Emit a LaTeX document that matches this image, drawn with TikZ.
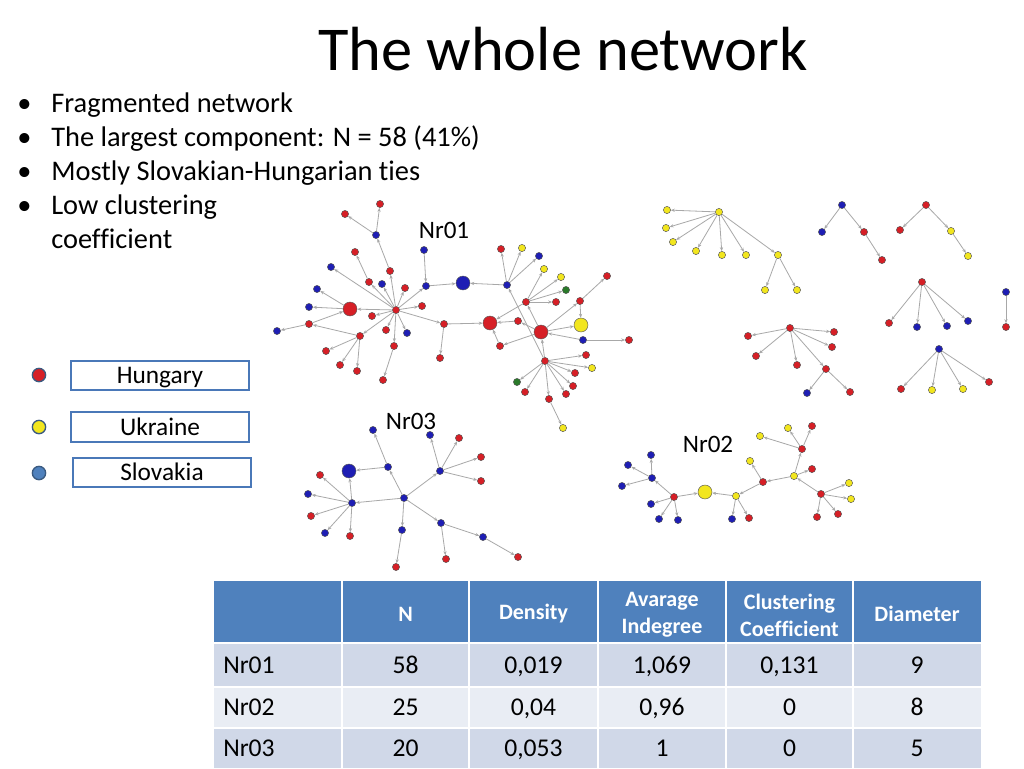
\documentclass[tikz,border=0pt]{standalone}
\usepackage{fontspec}
\setmainfont{Carlito}[Ligatures={NoCommon}]
\usetikzlibrary{arrows.meta}
\definecolor{hred}{HTML}{D61F26}
\definecolor{sblue}{HTML}{1E1EB4}
\definecolor{uyel}{HTML}{F2E61E}
\definecolor{ggreen}{HTML}{2A7A2A}
\definecolor{edgegray}{HTML}{A8A8A8}
\definecolor{hdr}{HTML}{4F81BD}
\definecolor{rowA}{HTML}{D0D8E8}
\definecolor{rowB}{HTML}{E9EDF4}
\definecolor{lgborder}{HTML}{4A78B8}
\definecolor{lgout}{HTML}{3A5A80}
\tikzset{
  nd/.style={circle, draw=black!65, line width=0.35pt, inner sep=0pt, minimum size=5.4pt},
  nH/.style={nd, fill=hred},
  nS/.style={nd, fill=sblue},
  nU/.style={nd, fill=uyel},
  nG/.style={nd, fill=ggreen},
  bignd/.style={minimum size=10.5pt},
  ed/.style={draw=edgegray, line width=0.6pt, -{Stealth[length=3pt,width=2.4pt]}},
  lgbox/.style={draw=lgborder, line width=1.3pt, minimum width=133.5pt, minimum height=22pt, inner sep=0pt, text height=12.3pt, text depth=0pt, font=\fontsize{19}{22}\selectfont},
  lgdot/.style={circle, draw=lgout, line width=1pt, minimum size=10pt, inner sep=0pt},
  bul/.style={anchor=base west, inner sep=0pt, font=\fontsize{21.3}{25}\selectfont},
  lbl/.style={anchor=base, inner sep=0pt, font=\fontsize{18.8}{22}\selectfont},
  cellt/.style={anchor=base, inner sep=0pt, font=\fontsize{19.2}{23}\selectfont},
  hdrt/.style={inner sep=0pt, text=white, align=center, font=\fontsize{16.5}{20.3}\selectfont\bfseries},
}
\begin{document}
\begin{tikzpicture}[x=0.75pt,y=-0.75pt]
\useasboundingbox (0,0) rectangle (1024,768);
\fill[white] (0,0) rectangle (1024,768);
% title
\node[anchor=base, inner sep=0pt, font=\fontsize{46.8}{56}\selectfont] (title) at (563,70) {The whole network};
% bullets
\foreach \yy/\tt in {112/Fragmented network, 146/The largest component: N = 58 (41\%), 180/Mostly Slovakian-Hungarian ties, 214/Low clustering}{
  \node[bul] at (51,\yy) {\tt};
  \node[bul] at (17,\yy) {•};
}
\node[bul] (coef) at (51,248) {coefficient};
% legend
\node[lgdot, fill=hred] (ld1) at (39,375) {};
\node[lgdot, fill=uyel] (ld2) at (39,427) {};
\node[lgdot, fill=hdr] (ld3) at (39,473) {};
\node[lgbox] (lb1) at (160,375.5) {Hungary};
\node[lgbox] (lb2) at (160,427) {Ukraine};
\node[lgbox] (lb3) at (162,472.5) {Slovakia};
% labels
\node[lbl] (l1) at (444,238) {Nr01};
\node[lbl] (l3) at (411,429) {Nr03};
\node[lbl] (l2) at (708,452) {Nr02};

% ---------- Nr01 ----------
\node[nH] (a1) at (380,204) {};
\node[nH] (a2) at (345,214) {};
\node[nS] (a3) at (376,235) {};
\node[nH] (a4) at (355,252) {};
\node[nS] (a5) at (331,267) {};
\node[nH] (a6) at (390,271) {};
\node[nH] (a7) at (369,282) {};
\node[nS] (a8) at (382,284) {};
\node[nH] (a9) at (405,288) {};
\node[nS] (a10) at (317,289) {};
\node[nS] (a11) at (424,250) {};
\node[nS] (a12) at (426,286) {};
\node[nS,bignd] (a13) at (463,283) {};
\node[nS] (a14) at (309,307) {};
\node[nH,bignd] (a15) at (350,309) {};
\node[nH] (hub) at (396,310) {};
\node[nH] (a16) at (422,306) {};
\node[nH] (a17) at (372,316) {};
\node[nH] (a18) at (309,324) {};
\node[nS] (a19) at (277,331) {};
\node[nH] (a20) at (444,324) {};
\node[nH] (a21) at (386,330) {};
\node[nS] (a22) at (407,333) {};
\node[nH] (a23) at (360,336) {};
\node[nH] (a24) at (394,346) {};
\node[nH] (a25) at (326,351) {};
\node[nH] (a26) at (440,358) {};
\node[nH] (a27) at (340,365) {};
\node[nH] (a28) at (357,371) {};
\node[nH] (a29) at (383,380) {};
\node[nH] (b1) at (501,249) {};
\node[nU] (b2) at (522,248) {};
\node[nS] (b3) at (539,256) {};
\node[nS] (b4) at (507,285) {};
\node[nU] (b5) at (544,269) {};
\node[nU] (b6) at (561,277) {};
\node[nG] (b7) at (566,290) {};
\node[nH] (b8) at (526,302) {};
\node[nH] (b9) at (556,302) {};
\node[nH] (b10) at (580,301) {};
\node[nH] (b11) at (607,276) {};
\node[nH,bignd] (b12) at (490,323) {};
\node[nH] (b13) at (518,321) {};
\node[nH,bignd] (b14) at (541,332) {};
\node[nU,bignd] (b15) at (581,325) {};
\node[nS] (b16) at (583,340) {};
\node[nH] (b17) at (629,340) {};
\node[nH] (b18) at (500,346) {};
\node[nH] (hub2) at (545,361) {};
\node[nH] (b19) at (586,355) {};
\node[nU] (b20) at (592,368) {};
\node[nH] (b21) at (575,373) {};
\node[nH] (b22) at (573,386) {};
\node[nG] (b23) at (517,382) {};
\node[nH] (b24) at (525,392) {};
\node[nH] (b25) at (566,394) {};
\node[nH] (b26) at (549,399) {};
\node[nU] (b27) at (563,428) {};
\foreach \s/\t in {a3/a1,a3/a2,a6/a3,hub/a6,hub/a7,a7/a4,hub/a5,hub/a8,hub/a9,hub/a16,hub/a15,a15/a10,a15/a14,hub/a17,a18/a15,a18/a19,a23/a18,hub/a23,a23/a25,a23/a27,a23/a28,hub/a21,hub/a22,hub/a24,a24/a29,hub/a20,a20/a26,a20/b12,hub/a12,a12/a13,a11/a12,
 b4/a13,b4/b1,b4/b2,b4/b3,hub2/b4,b14/b13,b13/b12,b14/b18,b18/b12,b8/b12,b8/b5,b8/b6,b8/b7,b8/b9,b14/b8,b14/b10,b10/b11,b10/b15,b14/b15,b16/b14,b16/b17,hub2/b14,hub2/b19,hub2/b20,hub2/b21,hub2/b22,hub2/b23,hub2/b24,hub2/b25,hub2/b26,b26/b27}
  \draw[ed] (\s) -- (\t);

% ---------- Nr03 ----------
\node[nS] (c1) at (373,430) {};
\node[nS] (c2) at (430,435) {};
\node[nH] (c3) at (459,438) {};
\node[nS] (c4) at (388,467) {};
\node[nS,bignd] (c5) at (349,471) {};
\node[nH] (c6) at (481,457) {};
\node[nS] (c7) at (440,471) {};
\node[nH] (c8) at (481,481) {};
\node[nH] (c9) at (320,475) {};
\node[nS] (c10) at (308,494) {};
\node[nS] (c11) at (352,503) {};
\node[nS] (c12) at (404,498) {};
\node[nH] (c13) at (311,516) {};
\node[nS] (c14) at (325,533) {};
\node[nH] (c15) at (350,536) {};
\node[nS] (c16) at (402,530) {};
\node[nS] (c17) at (441,523) {};
\node[nS] (c18) at (483,537) {};
\node[nH] (c19) at (446,559) {};
\node[nH] (c20) at (396,567) {};
\node[nH] (c21) at (518,557) {};
\foreach \s/\t in {c12/c4,c4/c1,c4/c5,c12/c11,c11/c5,c11/c9,c11/c10,c11/c13,c11/c14,c11/c15,c12/c7,c7/c2,c7/c3,c7/c6,c7/c8,c12/c16,c16/c20,c12/c17,c17/c19,c17/c18,c18/c21}
  \draw[ed] (\s) -- (\t);

% ---------- Nr02 ----------
\node[nS] (d1) at (651,455) {};
\node[nS] (d2) at (628,465) {};
\node[nS] (d3) at (652,478) {};
\node[nS] (d4) at (622,486) {};
\node[nH] (d5) at (674,497) {};
\node[nS] (d6) at (651,504) {};
\node[nS] (d7) at (659,519) {};
\node[nS] (d8) at (678,520) {};
\node[nU,bignd] (d9) at (705,492) {};
\node[nU] (d10) at (736,496) {};
\node[nS] (d11) at (732,519) {};
\node[nH] (d12) at (749,518) {};
\node[nH] (d13) at (763,482) {};
\node[nU] (d14) at (750,461) {};
\node[nU] (d15) at (794,476) {};
\node[nH] (d16) at (812,469) {};
\node[nH] (d17) at (802,449) {};
\node[nU] (d18) at (760,436) {};
\node[nU] (d19) at (788,428) {};
\node[nH] (d20) at (812,426) {};
\node[nH] (d21) at (821,494) {};
\node[nU] (d22) at (849,483) {};
\node[nU] (d23) at (851,499) {};
\node[nH] (d24) at (838,514) {};
\node[nH] (d25) at (817,517) {};
\foreach \s/\t in {d5/d3,d3/d1,d3/d2,d3/d4,d5/d6,d5/d7,d5/d8,d5/d9,d10/d9,d10/d11,d10/d12,d13/d10,d13/d14,d15/d13,d15/d16,d15/d17,d17/d18,d17/d19,d17/d20,d21/d15,d21/d22,d21/d23,d21/d24,d21/d25}
  \draw[ed] (\s) -- (\t);

% ---------- small components ----------
\node[nU] (e1) at (719,212) {};
\node[nU] (e2) at (667,210) {};
\node[nU] (e3) at (666,228) {};
\node[nU] (e4) at (673,242) {};
\node[nU] (e5) at (696,251) {};
\node[nU] (e6) at (722,255) {};
\node[nU] (e7) at (746,255) {};
\node[nU] (e8) at (778,255) {};
\node[nU] (e9) at (765,290) {};
\node[nU] (e10) at (797,290) {};
\node[nS] (f1) at (842,205) {};
\node[nS] (f2) at (822,232) {};
\node[nH] (f3) at (864,232) {};
\node[nH] (f4) at (882,260) {};
\node[nH] (g1) at (926,205) {};
\node[nH] (g2) at (900,230) {};
\node[nU] (g3) at (951,231) {};
\node[nU] (g4) at (968,256) {};
\node[nH] (h1) at (922,282) {};
\node[nH] (h2) at (889,323) {};
\node[nS] (h3) at (917,327) {};
\node[nS] (h4) at (947,326) {};
\node[nS] (h5) at (968,321) {};
\node[nS] (i1) at (1006,292) {};
\node[nH] (i2) at (1006,327) {};
\node[nH] (j1) at (790,328) {};
\node[nH] (j2) at (748,336) {};
\node[nH] (j3) at (834,332) {};
\node[nH] (j4) at (832,347) {};
\node[nH] (j5) at (756,356) {};
\node[nH] (j6) at (797,365) {};
\node[nH] (j7) at (826,369) {};
\node[nS] (j8) at (807,393) {};
\node[nH] (j9) at (850,392) {};
\node[nS] (k1) at (939,349) {};
\node[nH] (k2) at (901,389) {};
\node[nU] (k3) at (932,390) {};
\node[nU] (k4) at (963,389) {};
\node[nH] (k5) at (989,382) {};
\foreach \s/\t in {e1/e2,e1/e3,e1/e4,e1/e5,e1/e6,e1/e7,e1/e8,e8/e9,e8/e10,f1/f2,f1/f3,f3/f4,g1/g2,g1/g3,g3/g4,h1/h2,h1/h3,h1/h4,h1/h5,i1/i2,j1/j2,j1/j3,j1/j4,j1/j5,j1/j6,j1/j7,j7/j8,j7/j9,k1/k2,k1/k3,k1/k4,k1/k5}
  \draw[ed] (\s) -- (\t);

% ---------- table ----------
\fill[hdr] (214,581) rectangle (981,643);
\fill[rowA] (214,643) rectangle (981,687);
\fill[rowB] (214,687) rectangle (981,728);
\fill[rowA] (214,728) rectangle (981,768);
\foreach \xx in {342,469,598,726,853} \draw[white, line width=1pt] (\xx,581) -- (\xx,768);
\foreach \yy in {687,728} \draw[white, line width=1pt] (214,\yy) -- (981,\yy);
\draw[white, line width=2pt] (214,643) -- (981,643);
\node[hdrt] (h1t) at (405.5,614) {N};
\node[hdrt] (h2t) at (533.5,614) {Density};
\node[hdrt] (h3t) at (662,615) {Avarage\\Indegree};
\node[hdrt] (h4t) at (789.5,615) {Clustering\\Coefficient};
\node[hdrt] (h5t) at (917,614) {Diameter};
\foreach \yy/\na/\nb/\nc/\nd/\ne/\nf in {673/Nr01/58/{0,019}/{1,069}/{0,131}/9, 715/Nr02/25/{0,04}/{0,96}/0/8, 756/Nr03/20/{0,053}/1/0/5}{
  \node[cellt, anchor=base west] at (223,\yy) {\na};
  \node[cellt] at (405.5,\yy) {\nb};
  \node[cellt] at (533.5,\yy) {\nc};
  \node[cellt] at (662,\yy) {\nd};
  \node[cellt] at (789.5,\yy) {\ne};
  \node[cellt] at (917,\yy) {\nf};
}
\end{tikzpicture}
\end{document}
